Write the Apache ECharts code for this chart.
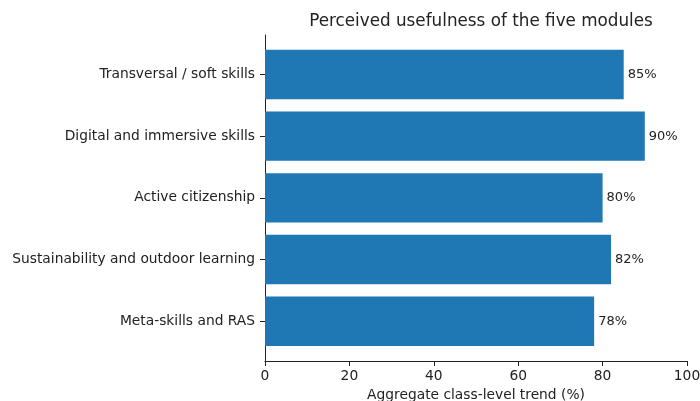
<!DOCTYPE html>
<html>
<head>
<meta charset="utf-8">
<script src="https://cdn.jsdelivr.net/npm/echarts@6/dist/echarts.min.js"></script>
<style>
  html, body { margin: 0; padding: 0; background: #fff; }
  #main { width: 700px; height: 401px; }
</style>
</head>
<body>
<div id="main"></div>
<script>
// 数据
var modules = ['Transversal / soft skills', 'Digital and immersive skills', 'Active citizenship',
    'Sustainability and outdoor learning', 'Meta-skills and RAS'];
var usefulness = [85, 90, 80, 82, 78];
var xTicks = [0, 20, 40, 60, 80, 100];

var font = 'DejaVu Sans';
var ink = '#222';
var myChart = echarts.init(document.getElementById('main'));

var option = {
    animation: false,
    title: {
        text: 'Perceived usefulness of the five modules',
        left: 476, top: 8, textAlign: 'center',
        textStyle: { fontFamily: font, fontSize: 16.8, fontWeight: 'normal', color: ink }
    },
    // grid 0: spines, grid 1: bars (matplotlib margins)
    grid: [
        { left: 265, right: 13, top: 35, bottom: 40, outerBoundsMode: 'none' },
        { left: 265, right: 13, top: 43.6, bottom: 48.9, outerBoundsMode: 'none' }
    ],
    xAxis: [
        {
            gridIndex: 0, type: 'value', min: 0, max: 100, interval: 20,
            name: 'Aggregate class-level trend (%)', nameLocation: 'middle', nameGap: 27,
            nameMoveOverlap: false,
            nameTextStyle: { fontFamily: font, fontSize: 13.8, color: ink },
            axisLine: { lineStyle: { color: ink, width: 1 } },
            axisTick: { show: true, length: 5, lineStyle: { color: ink } },
            axisLabel: { fontFamily: font, fontSize: 13.8, color: ink, margin: 8,
                formatter: function (v) { return xTicks.indexOf(v) >= 0 ? v : ''; } },
            splitLine: { show: false }
        },
        { gridIndex: 1, type: 'value', min: 0, max: 100, show: false }
    ],
    yAxis: [
        {
            gridIndex: 0, type: 'value', min: 0, max: 1,
            axisLine: { show: true, lineStyle: { color: ink, width: 1 } },
            axisTick: { show: false }, axisLabel: { show: false }, splitLine: { show: false }
        },
        {
            gridIndex: 1, type: 'category', data: modules, inverse: true,
            axisLine: { show: false },
            axisTick: { show: true, alignWithLabel: true, length: 5, lineStyle: { color: ink } },
            axisLabel: { fontFamily: font, fontSize: 13.8, color: ink, margin: 10 }
        }
    ],
    series: [
        {
            type: 'bar', xAxisIndex: 1, yAxisIndex: 1,
            data: usefulness,
            barCategoryGap: '20%',
            itemStyle: { color: '#1f77b4' },
            label: {
                show: true, position: 'right', distance: 4,
                fontFamily: font, fontSize: 13, color: ink,
                formatter: '{c}%'
            }
        }
    ]
};
myChart.setOption(option);
</script>
</body>
</html>
